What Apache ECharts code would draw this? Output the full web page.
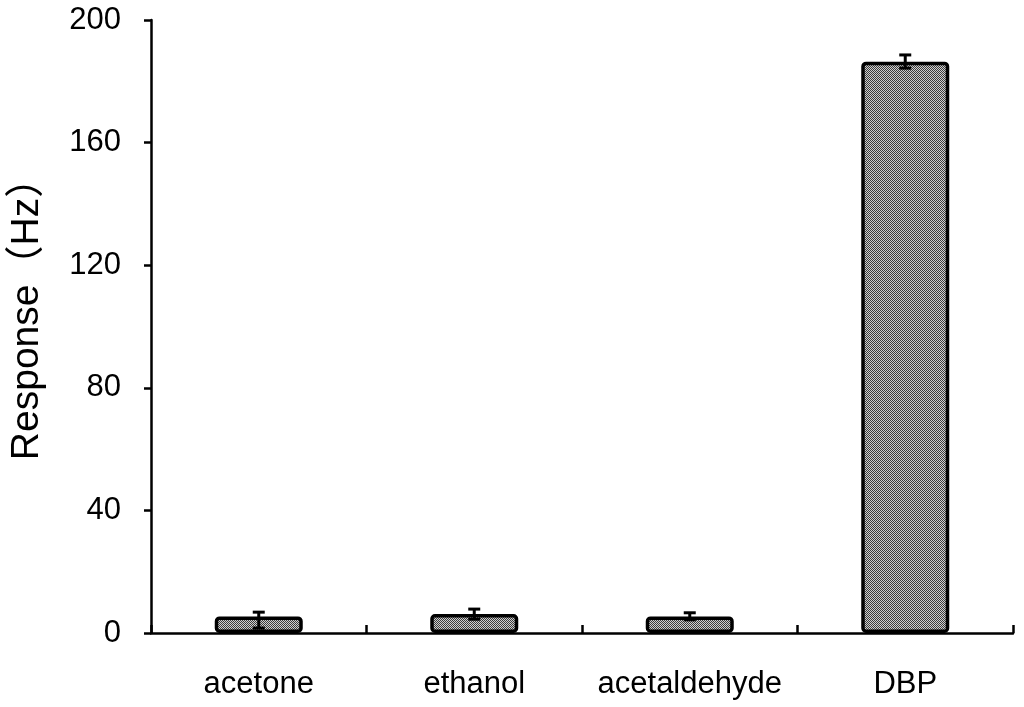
<!DOCTYPE html>
<html>
<head>
<meta charset="utf-8">
<script src="https://cdn.jsdelivr.net/npm/echarts@6/dist/echarts.min.js"></script>
<style>
  html, body { margin: 0; padding: 0; background: #fff; }
  #chart { width: 1024px; height: 707px; }
</style>
</head>
<body>
<div id="chart"></div>
<script>
const categories = ['acetone', 'ethanol', 'acetaldehyde', 'DBP'];
const responseValues = [5.4, 6.2, 5.4, 186.4];
const errorLow = [1.6, 4.5, 4.3, 184.3];
const errorHigh = [6.8, 7.8, 6.6, 188.6];
const yTicks = [0, 40, 80, 120, 160, 200];

// checker pattern fill
const pat = document.createElement('canvas');
pat.width = 2; pat.height = 2;
const pctx = pat.getContext('2d');
pctx.fillStyle = '#cfcfcf'; pctx.fillRect(0, 0, 2, 2);
pctx.fillStyle = '#3c3c3c'; pctx.fillRect(0, 0, 1, 1); pctx.fillRect(1, 1, 1, 1);

const chart = echarts.init(document.getElementById('chart'));
const font = '"Liberation Sans", Arial, sans-serif';

chart.setOption({
  animation: false,
  grid: { left: 150, right: 11, top: 20, bottom: 74 },
  xAxis: {
    type: 'category',
    data: categories,
    boundaryGap: true,
    axisLine: { lineStyle: { color: '#000', width: 2.5 } },
    axisTick: { show: true, inside: true, length: 8, interval: 0, lineStyle: { color: '#000', width: 2.5 } },
    axisLabel: { color: '#000', fontSize: 31, fontFamily: font, margin: 36, interval: 0 }
  },
  yAxis: {
    type: 'value',
    min: yTicks[0],
    max: yTicks[yTicks.length - 1],
    interval: 40,
    name: 'Response（Hz）',
    nameLocation: 'middle',
    nameGap: 104,
    nameTextStyle: { color: '#000', fontSize: 39, fontFamily: '"Liberation Sans", "Noto Sans CJK SC", sans-serif', padding: [0, 0, 0, 34] },
    splitLine: { show: false },
    axisLine: { show: true, lineStyle: { color: '#000', width: 2.5 } },
    axisTick: { show: true, inside: false, length: 7, lineStyle: { color: '#000', width: 2.5 } },
    axisLabel: { color: '#000', fontSize: 31, fontFamily: font, margin: 30 }
  },
  series: [
    {
      type: 'bar',
      data: responseValues,
      barWidth: 88,
      itemStyle: {
        color: { image: pat, repeat: 'repeat' },
        borderColor: '#000',
        borderWidth: 3.5,
        borderRadius: 3
      },
      z: 2
    },
    {
      type: 'custom',
      z: 5,
      data: categories.map((c, i) => [i, errorLow[i], errorHigh[i]]),
      renderItem: function (params, api) {
        const x = api.value(0);
        const lo = api.coord([x, api.value(1)]);
        const hi = api.coord([x, api.value(2)]);
        const hw = 6;
        const st = { stroke: '#000', lineWidth: 3 };
        return {
          type: 'group',
          children: [
            { type: 'line', shape: { x1: lo[0], y1: lo[1], x2: hi[0], y2: hi[1] }, style: st },
            { type: 'line', shape: { x1: lo[0] - hw, y1: lo[1], x2: lo[0] + hw, y2: lo[1] }, style: st },
            { type: 'line', shape: { x1: hi[0] - hw, y1: hi[1], x2: hi[0] + hw, y2: hi[1] }, style: st }
          ]
        };
      }
    }
  ]
});
</script>
</body>
</html>
